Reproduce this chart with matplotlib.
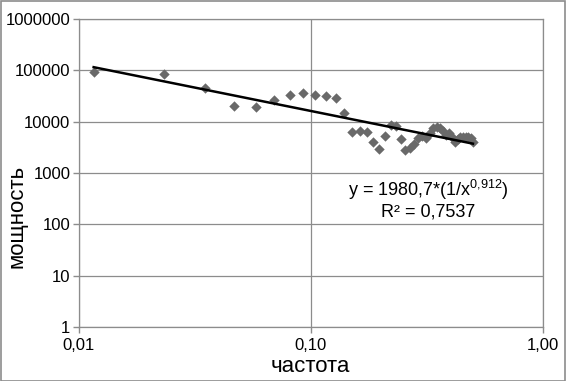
import numpy as np
import matplotlib
matplotlib.use('Agg')
import matplotlib.pyplot as plt
from matplotlib.ticker import FixedLocator, NullLocator

plt.rcParams['font.family'] = ['Liberation Sans', 'DejaVu Sans']
plt.rcParams['mathtext.default'] = 'regular'

# частота (frequency) values
freq = [0.0116, 0.0233, 0.0349, 0.0465, 0.0581, 0.0698, 0.0814, 0.0930,
        0.1047, 0.1163, 0.1279, 0.1395, 0.1512, 0.1628, 0.1744, 0.1860,
        0.1977, 0.2093, 0.2209, 0.2326, 0.2442, 0.2558, 0.2674, 0.2791,
        0.2907, 0.3023, 0.3140, 0.3256, 0.3372, 0.3488, 0.3605, 0.3721,
        0.3837, 0.3953, 0.4070, 0.4186, 0.4302, 0.4419, 0.4535, 0.4651,
        0.4767, 0.4884, 0.5000]
# мощность (power) values
power = [91400, 83600, 45300, 20500, 19600, 26400, 32600, 35700,
         32600, 31200, 28500, 14500, 6300, 6500, 6200, 4100,
         2900, 5150, 8500, 8250, 4550, 2750, 3100, 3650,
         4900, 5250, 4900, 5900, 7400, 8000, 7400, 6700,
         5500, 6100, 5100, 4100, 4500, 4950, 5100, 4950,
         5100, 4750, 4100]

# power trend line coefficients shown on the chart
fit_a = 1980.7
fit_b = 0.912
r2 = 0.7537

x_ticks = [0.01, 0.1, 1.0]
x_labels = ['0,01', '0,10', '1,00']
y_ticks = [1, 10, 100, 1000, 10000, 100000, 1000000]
y_labels = ['1', '10', '100', '1000', '10000', '100000', '1000000']

fig = plt.figure(figsize=(5.66, 3.81), dpi=100)
ax = fig.add_axes([0.139, 0.142, 0.820, 0.808])

grid_c = '#8c8c8c'
ax.set_xscale('log')
ax.set_yscale('log')
ax.set_xlim(0.01, 1.0)
ax.set_ylim(1, 1000000)

ax.xaxis.set_major_locator(FixedLocator(x_ticks))
ax.xaxis.set_minor_locator(NullLocator())
ax.yaxis.set_major_locator(FixedLocator(y_ticks))
ax.yaxis.set_minor_locator(NullLocator())
ax.set_xticklabels(x_labels)
ax.set_yticklabels(y_labels)
ax.tick_params(axis='both', labelsize=12, color=grid_c, length=4, width=1, pad=2)
ax.tick_params(axis='x', pad=4)

ax.grid(True, color=grid_c, linewidth=0.9)
ax.set_axisbelow(True)
for side in ['top', 'right']:
    ax.spines[side].set_visible(False)
for side in ['left', 'bottom']:
    ax.spines[side].set_color(grid_c)
    ax.spines[side].set_linewidth(0.9)
# top and right edges come from the gridlines at 1e6 and 1.00
ax.axhline(1000000, color=grid_c, linewidth=0.9, clip_on=False)
ax.axvline(1.0, color=grid_c, linewidth=0.9, clip_on=False)

ax.scatter(freq, power, marker='D', s=28, color='#696969', zorder=3, linewidths=0)

fx = np.array(freq)
ax.plot(fx, fit_a * (1 / fx ** fit_b), color='black', linewidth=1.8, zorder=4)

ax.text(0.753, 0.445, 'y = 1980,7*(1/x$^{0{,}912}$)', fontsize=13, ha='center', va='center',
        transform=ax.transAxes)
ax.text(0.753, 0.374, 'R² = %s' % str(r2).replace('.', ','), fontsize=13, ha='center',
        va='center', transform=ax.transAxes)

# axis titles placed in figure coordinates
fig.text(0.5 * (0.139 + 0.959), 0.037, 'частота', fontsize=16, ha='center', va='center')
fig.text(0.030, 0.433, 'мощность', fontsize=16, ha='center', va='center', rotation=90)

fig.patches.append(plt.Rectangle((0.001, 0.001), 0.997, 0.997, transform=fig.transFigure,
                                 fill=False, edgecolor='#8c8c8c', linewidth=1.2))

fig.savefig('out.png', dpi=100)
